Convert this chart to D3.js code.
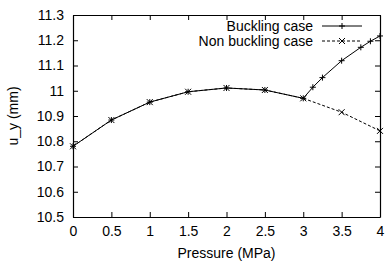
<!DOCTYPE html>
<html lang="en">
<head>
<meta charset="UTF-8">
<title>u_y vs pressure</title>
<script src="https://d3js.org/d3.v7.min.js"></script>
<style>
  body { margin: 0; background: #fff; }
  text { font-family: "Liberation Sans", Arial, sans-serif; font-size: 14px; fill: #000; }
</style>
</head>
<body>
<svg width="385" height="261" class="chart"></svg>
<script>
    var pressure = [0, 0.5, 1, 1.5, 2, 2.5, 3, 3.5, 4];
    var nonBuckling = [10.78, 10.884, 10.955, 10.996, 11.011, 11.003, 10.97, 10.915, 10.841];
    var bucklingP = [0, 0.5, 1, 1.5, 2, 2.5, 3, 3.125, 3.25, 3.5, 3.75, 3.875, 4];
    var buckling = [10.78, 10.884, 10.955, 10.996, 11.011, 11.003, 10.97, 11.014, 11.052, 11.119, 11.172, 11.196, 11.217];
    var xTicks = [0, 0.5, 1, 1.5, 2, 2.5, 3, 3.5, 4];
    var yTicks = [10.5, 10.6, 10.7, 10.8, 10.9, 11, 11.1, 11.2, 11.3];

    // plot box (window.top is read-only, so no "top" here)
    var pLeft = 73, pRight = 380, pTop = 15, pBottom = 217;
    var svg = d3.select('.chart');

    // scales
    var x = d3.scaleLinear().domain([0, 4]).range([pLeft, pRight]);
    var y = d3.scaleLinear().domain([10.5, 11.3]).range([pBottom, pTop]);

    // axes, ticks pointing inward, mirrored on top/right
    svg.append('g').attr('transform', 'translate(0,' + pBottom + ')')
        .call(d3.axisBottom(x).tickValues(xTicks).tickSizeInner(-5).tickSizeOuter(0).tickPadding(9).tickFormat(d3.format('')));
    svg.append('g').attr('transform', 'translate(0,' + pTop + ')')
        .call(d3.axisTop(x).tickValues(xTicks).tickSizeInner(-5).tickSizeOuter(0).tickFormat(''));
    svg.append('g').attr('transform', 'translate(' + pLeft + ',0)')
        .call(d3.axisLeft(y).tickValues(yTicks).tickSizeInner(-5).tickSizeOuter(0).tickPadding(9).tickFormat(d3.format('')));
    svg.append('g').attr('transform', 'translate(' + pRight + ',0)')
        .call(d3.axisRight(y).tickValues(yTicks).tickSizeInner(-5).tickSizeOuter(0).tickFormat(''));

    svg.selectAll('.domain').attr('stroke', '#000').attr('stroke-width', 1.2);
    svg.selectAll('.tick line').attr('stroke', '#000');
    svg.selectAll('.tick text').style('font-family', '"Liberation Sans", Arial, sans-serif').style('font-size', '14px');

    // lines
    var line = d3.line().x(function (d) { return x(d[0]); }).y(function (d) { return y(d[1]); });
    var nb = pressure.map(function (p, i) { return [p, nonBuckling[i]]; });
    var bk = bucklingP.map(function (p, i) { return [p, buckling[i]]; });

    svg.append('path').datum(nb).attr('d', line)
        .attr('fill', 'none').attr('stroke', '#000').attr('stroke-width', 1).attr('stroke-dasharray', '3,2');
    svg.append('path').datum(bk).attr('d', line)
        .attr('fill', 'none').attr('stroke', '#000').attr('stroke-width', 1);

    // markers
    function plus(g, cx, cy) {
        g.append('path').attr('d', 'M' + (cx - 3) + ',' + cy + 'H' + (cx + 3) + 'M' + cx + ',' + (cy - 3) + 'V' + (cy + 3))
            .attr('stroke', '#000').attr('stroke-width', 1);
    }
    function cross(g, cx, cy) {
        g.append('path').attr('d', 'M' + (cx - 3) + ',' + (cy - 3) + 'L' + (cx + 3) + ',' + (cy + 3) + 'M' + (cx - 3) + ',' + (cy + 3) + 'L' + (cx + 3) + ',' + (cy - 3))
            .attr('stroke', '#000').attr('stroke-width', 1);
    }
    var marks = svg.append('g');
    bk.forEach(function (d) { plus(marks, x(d[0]), y(d[1])); });
    nb.forEach(function (d) { cross(marks, x(d[0]), y(d[1])); });

    // legend
    var legend = [
        { label: 'Buckling case', dash: null, mark: plus },
        { label: 'Non buckling case', dash: '3,2', mark: cross }
    ];
    legend.forEach(function (l, i) {
        var ly = 26 + i * 15;
        svg.append('text').attr('x', 313).attr('y', ly).attr('dy', '0.35em')
            .attr('text-anchor', 'end').text(l.label);
        svg.append('line').attr('x1', 322).attr('x2', 362).attr('y1', ly).attr('y2', ly)
            .attr('stroke', '#000').attr('stroke-dasharray', l.dash);
        l.mark(svg, 342, ly);
    });

    // axis titles
    svg.append('text').attr('x', (pLeft + pRight) / 2).attr('y', 253).attr('dy', '0.35em')
        .attr('text-anchor', 'middle').text('Pressure (MPa)');
    svg.append('text').attr('transform', 'translate(13,' + (pTop + pBottom) / 2 + ') rotate(-90)')
        .attr('dy', '0.35em').attr('text-anchor', 'middle').text('u_y (mm)');
</script>
</body>
</html>
